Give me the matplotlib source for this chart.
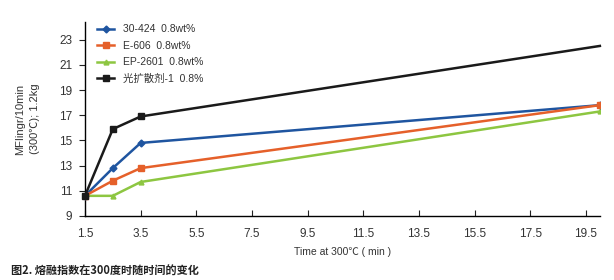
import matplotlib
matplotlib.use("Agg")
import matplotlib.pyplot as plt

plt.rcParams['font.family'] = ['Liberation Sans', 'Noto Sans CJK SC', 'DejaVu Sans']

time = [1.5, 2.5, 3.5, 20.0]
s_blue = [10.6, 12.8, 14.8, 17.8]
s_red = [10.6, 11.8, 12.8, 17.8]
s_green = [10.6, 10.6, 11.7, 17.3]
s_black = [10.6, 15.9, 16.9, 22.5]
labels = ['30-424  0.8wt%', 'E-606  0.8wt%', 'EP-2601  0.8wt%', '光扩散剂-1  0.8%']
xticks = [1.5, 3.5, 5.5, 7.5, 9.5, 11.5, 13.5, 15.5, 17.5, 19.5]
yticks = [9, 11, 13, 15, 17, 19, 21, 23]

fig = plt.figure(figsize=(6.14, 2.8), dpi=100)
ax = fig.add_axes([0.1384, 0.2286, 0.8386, 0.6928])

ax.plot(time, s_blue, color='#1f55a0', lw=1.8, marker='D', ms=3.5, label=labels[0], zorder=3)
ax.plot(time, s_red, color='#e5602a', lw=1.8, marker='s', ms=4.5, label=labels[1], zorder=4)
ax.plot(time, s_green, color='#8dc641', lw=1.8, marker='^', ms=3.5, label=labels[2], zorder=2)
ax.plot(time, s_black, color='#1a1a1a', lw=1.8, marker='s', ms=4.5, markevery=[0, 1, 2],
        label=labels[3], zorder=5, clip_on=False)

ax.set_xlim(1.5, 20.0)
ax.set_ylim(9, 24.4)
ax.set_xticks(xticks)
ax.set_xticklabels([str(v) for v in xticks])
ax.set_yticks(yticks)
for s in ['top', 'right']:
    ax.spines[s].set_visible(False)
for s in ['left', 'bottom']:
    ax.spines[s].set_linewidth(1.0)
ax.tick_params(axis='x', direction='in', length=4, labelsize=8.5, colors='#222222', pad=9)
ax.tick_params(axis='y', direction='out', length=4, labelsize=8.5, colors='#222222', pad=5)
for lbl in ax.get_xticklabels() + ax.get_yticklabels():
    lbl.set_color('#333333')

ax.set_xlabel('Time at 300℃ ( min )', fontsize=7.5, color='#333333', labelpad=4.5)
ax.set_ylabel('MFIingr/10min\n(300℃); 1.2kg', fontsize=8, color='#333333', labelpad=14,
              linespacing=1.6)

leg = ax.legend(loc='upper left', bbox_to_anchor=(0.01, 1.025), frameon=False, fontsize=7.5,
                handlelength=1.6, labelspacing=0.62, handletextpad=0.9, borderaxespad=0.3)
for t in leg.get_texts():
    t.set_color('#333333')

fig.text(0.018, 0.02, '图2. 熔融指数在300度时随时间的变化', fontsize=8, fontweight='bold',
         color='#222222', family=['Noto Sans CJK SC', 'DejaVu Sans'])

fig.savefig('out.png', dpi=100)
